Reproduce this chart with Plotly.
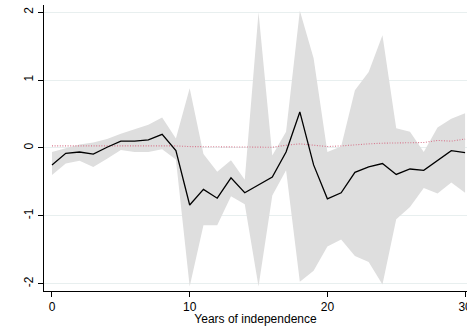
import plotly.graph_objects as go

# Years since independence
years = list(range(0, 31))

# Point estimate (solid black line)
estimate = [-0.25, -0.08, -0.06, -0.09, 0.01, 0.10, 0.10, 0.12, 0.20, -0.04,
            -0.84, -0.61, -0.74, -0.44, -0.66, -0.54, -0.43, -0.06, 0.53, -0.25,
            -0.75, -0.66, -0.36, -0.28, -0.23, -0.39, -0.31, -0.33, -0.19, -0.04,
            -0.07]

# Confidence interval bounds (grey band)
ci_upper = [-0.06, 0.00, 0.05, 0.08, 0.13, 0.21, 0.27, 0.34, 0.45, 0.14,
            0.88, -0.09, -0.35, -0.18, -0.47, 2.00, -0.11, 0.24, 2.02, 1.32,
            -0.06, 0.02, 0.85, 1.12, 1.66, 0.29, 0.24, -0.06, 0.30, 0.43,
            0.51]
ci_lower = [-0.40, -0.23, -0.19, -0.28, -0.16, -0.03, -0.06, -0.06, -0.02, -0.17,
            -2.04, -1.14, -1.14, -0.71, -0.83, -2.04, -0.70, -0.33, -1.97, -1.81,
            -1.45, -1.35, -1.59, -1.68, -2.01, -1.05, -0.87, -0.59, -0.67, -0.51,
            -0.66]

# Comparison series (red dotted line)
comparison = [0.03, 0.03, 0.03, 0.03, 0.03, 0.03, 0.03, 0.03, 0.04, 0.03,
              0.02, 0.02, 0.02, 0.02, 0.01, 0.01, 0.01, 0.04, 0.06, 0.04,
              0.02, 0.03, 0.05, 0.06, 0.07, 0.07, 0.08, 0.08, 0.11, 0.10,
              0.13]

y_ticks = [-2, -1, 0, 1, 2]
x_ticks = [0, 10, 20, 30]

fig = go.Figure()

fig.add_trace(go.Scatter(x=years, y=ci_lower, mode="lines",
                         line=dict(width=0, color="#dedede"),
                         hoverinfo="skip", showlegend=False))
fig.add_trace(go.Scatter(x=years, y=ci_upper, mode="lines", fill="tonexty",
                         fillcolor="#dedede",
                         line=dict(width=0, color="#dedede"),
                         hoverinfo="skip", showlegend=False))
fig.add_trace(go.Scatter(x=years, y=comparison, mode="lines",
                         line=dict(color="#d6758b", width=1.1, dash="1px,1.6px"),
                         showlegend=False))
fig.add_trace(go.Scatter(x=years, y=estimate, mode="lines",
                         line=dict(color="black", width=1.3),
                         showlegend=False))

axis_font = dict(family="Liberation Sans, Arial, sans-serif", size=12, color="black")

fig.update_layout(
    width=467, height=326,
    margin=dict(l=44, r=0, t=5, b=35, autoexpand=False),
    paper_bgcolor="white", plot_bgcolor="white",
    font=axis_font,
    xaxis=dict(
        range=[-0.58, 30.14],
        tickvals=x_ticks, ticktext=[str(v) for v in x_ticks],
        ticklabeloverflow="allow",
        automargin=False,
        ticks="outside", ticklen=5, tickwidth=1, tickcolor="black",
        showline=True, linecolor="black", linewidth=1,
        showgrid=False, zeroline=False,
        title=dict(text="Years of independence", font=axis_font, standoff=2),
        tickfont=axis_font,
    ),
    yaxis=dict(
        range=[-2.107, 2.105],
        tickvals=y_ticks, ticktext=[str(v) for v in y_ticks],
        tickangle=-90,
        automargin=False,
        ticks="outside", ticklen=5, tickwidth=1, tickcolor="black",
        showline=True, linecolor="black", linewidth=1,
        showgrid=True, gridcolor="#e8efef", gridwidth=1,
        zeroline=False,
        tickfont=axis_font,
    ),
)

fig.write_html("out.html")
